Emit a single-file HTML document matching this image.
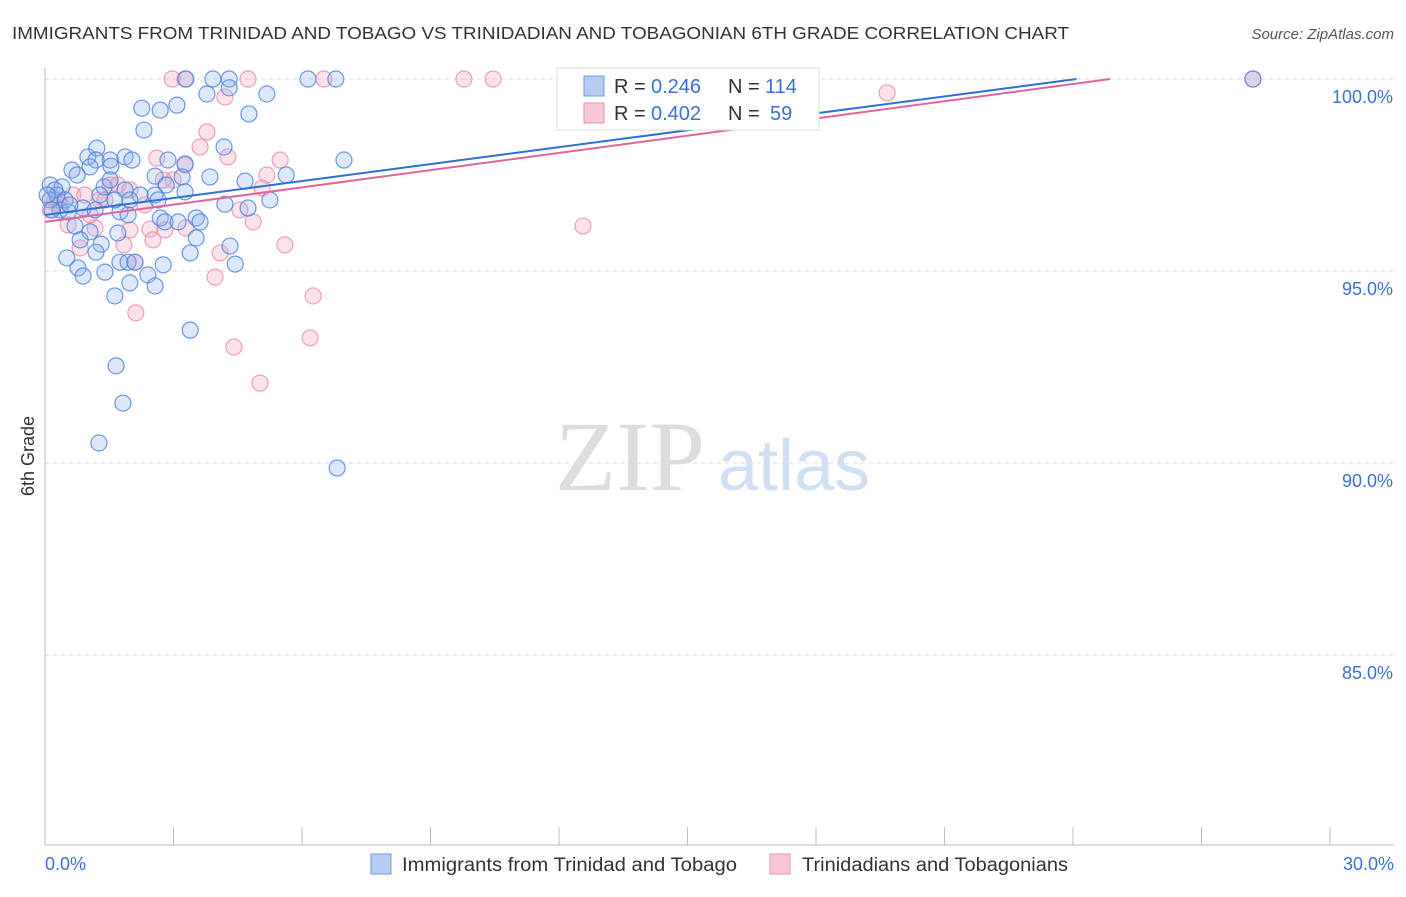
<!DOCTYPE html>
<html><head><meta charset="utf-8"><style>
body{margin:0;background:#fff;font-family:"Liberation Sans",sans-serif;}
</style></head><body>
<svg id="chart" width="1406" height="892" xmlns="http://www.w3.org/2000/svg" font-family="Liberation Sans, sans-serif">
<text x="12" y="39" font-size="17.5" fill="#333" textLength="1057" lengthAdjust="spacingAndGlyphs">IMMIGRANTS FROM TRINIDAD AND TOBAGO VS TRINIDADIAN AND TOBAGONIAN 6TH GRADE CORRELATION CHART</text>
<text x="1394" y="39" font-size="15" fill="#555" text-anchor="end" font-style="italic">Source: ZipAtlas.com</text>
<text transform="translate(34,456) rotate(-90)" font-size="18" fill="#333" text-anchor="middle">6th Grade</text>
<g>
<text x="555" y="490" font-size="100" font-family="Liberation Serif, serif" fill="#dcdcdc">ZIP</text>
<text x="718" y="490" font-size="72" fill="#d0dff2">atlas</text>
</g>
<g id="grid"></g><g id="axes"></g><g id="marks"></g>
<g>
<rect x="557" y="68" width="262" height="62" fill="#fff" stroke="#ddd"/>
<rect x="584" y="76" width="20" height="20" fill="#b5cdf3" stroke="#6d9be0"/>
<rect x="584" y="103" width="20" height="20" fill="#f8c6d6" stroke="#e891ad"/>
<text x="614" y="93" font-size="20" fill="#333">R =</text>
<text x="651" y="93" font-size="20" fill="#3b6fd4">0.246</text>
<text x="728" y="93" font-size="20" fill="#333">N =</text>
<text x="765" y="93" font-size="20" fill="#3b6fd4">114</text>
<text x="614" y="120" font-size="20" fill="#333">R =</text>
<text x="651" y="120" font-size="20" fill="#3b6fd4">0.402</text>
<text x="728" y="120" font-size="20" fill="#333">N =</text>
<text x="770" y="120" font-size="20" fill="#3b6fd4">59</text>
</g>
<g>
<rect x="371" y="854" width="20" height="20" fill="#b5cdf3" stroke="#6d9be0"/>
<text x="402" y="871" font-size="19" fill="#333" textLength="335" lengthAdjust="spacingAndGlyphs">Immigrants from Trinidad and Tobago</text>
<rect x="770" y="854" width="20" height="20" fill="#f8c6d6" stroke="#e891ad"/>
<text x="802" y="871" font-size="19" fill="#333" textLength="266" lengthAdjust="spacingAndGlyphs">Trinidadians and Tobagonians</text>
</g>
</svg>
<script>
const blueX=[3.29,3.92,4.30,6.14,6.79,4.30,3.78,5.18,2.26,2.69,3.08,4.76,2.31,4.18,1.21,1.00,1.52,1.87,1.19,2.03,2.87,3.27,1.54,0.63,1.05,0.75,2.57,3.85,3.20,4.67,5.63,6.98,2.83,0.12,0.40,1.38,1.87,0.28,2.57,3.27,5.25,4.20,4.74,0.89,1.17,0.35,0.54,1.75,1.94,2.69,3.53,2.80,3.11,3.62,0.70,1.05,1.70,3.53,1.31,0.82,4.32,1.19,3.39,0.51,1.75,1.94,2.10,2.76,4.44,0.77,1.40,0.89,2.40,1.98,2.57,1.63,3.39,1.66,1.82,1.26,6.82,28.2,0.12,0.23,0.05,0.16,0.47,0.58,1.28,1.63,2.22,1.52,1.98,2.64];
const blueY=[100,100,100,100,100,99.77,99.61,99.61,99.24,99.19,99.32,99.09,98.67,98.23,98.20,97.97,97.89,97.97,97.89,97.89,97.89,97.79,97.73,97.63,97.71,97.50,97.47,97.45,97.45,97.34,97.50,97.89,97.24,97.24,97.19,97.19,97.11,96.98,96.98,97.06,96.85,96.74,96.64,96.64,96.59,96.59,96.54,96.54,96.46,96.38,96.38,96.28,96.28,96.28,96.17,96.02,95.99,95.86,95.70,95.81,95.65,95.49,95.47,95.34,95.23,95.23,95.23,95.16,95.18,95.08,94.97,94.87,94.90,94.69,94.61,94.35,93.46,92.53,91.56,90.52,89.87,100,96.85,97.11,96.98,96.59,96.85,96.72,96.98,96.85,96.98,97.37,96.85,96.85];
const pinkX=[2.97,3.27,4.74,6.51,9.78,10.46,28.2,19.66,4.20,3.78,3.62,4.27,2.61,5.49,3.27,5.18,2.99,2.76,1.52,1.70,5.07,1.98,0.65,0.93,1.28,0.23,0.35,2.33,4.55,4.86,0.54,2.45,1.98,2.80,1.17,3.29,2.52,1.84,0.82,5.60,4.09,2.10,3.97,6.26,2.12,4.41,6.19,5.02,12.56,0.12,0.30,1.05,1.40];
const pinkY=[100,100,100,100,100,100,100,99.64,99.53,98.62,98.23,97.97,97.94,97.89,97.76,97.50,97.37,97.37,97.24,97.24,97.16,97.11,96.98,96.98,96.85,96.85,96.72,96.72,96.59,96.28,96.20,96.09,96.07,96.07,96.12,96.12,95.81,95.68,95.60,95.68,95.47,95.23,94.84,94.35,93.91,93.02,93.26,92.08,96.17,96.59,96.85,96.46,96.85];
const trendIntercepts=[96.46,96.28];
const trendSlopes=[0.147,0.1496];
const yTicks=[100,95,90,85];
const yTickLabels=["100.0%","95.0%","90.0%","85.0%"];
const xTickLabels=["0.0%","30.0%"];

const NS="http://www.w3.org/2000/svg";
const xs=v=>45+v*(1285/30);
const ys=v=>79+(100-v)*38.4;
function mk(tag,attrs,parent){const e=document.createElementNS(NS,tag);for(const k in attrs)e.setAttribute(k,attrs[k]);document.getElementById(parent).appendChild(e);return e;}

yTicks.forEach((t,i)=>{
  const g=mk('line',{x1:45,x2:1394,y1:ys(t),y2:ys(t),stroke:'#ddd','stroke-dasharray':'4,4'},'grid');
  
  
  const l=mk('text',{x:1393,y:ys(t)+24,'font-size':18,fill:'#3b6fd4','text-anchor':'end'},'axes');
  l.textContent=yTickLabels[i];
  
  
});
let a=mk('line',{x1:45,x2:45,y1:68,y2:845,stroke:'#bbb'},'axes');


a=mk('line',{x1:45,x2:1394,y1:845,y2:845,stroke:'#bbb'},'axes');


for(let i=0;i<=10;i++){
  const t=mk('line',{x1:xs(i*3),x2:xs(i*3),y1:827,y2:845,stroke:'#bbb'},'axes');
  
  
}
[[0,'start',45],[30,'end',1394]].forEach((d,i)=>{
  const l=mk('text',{x:d[2],y:870,'font-size':18,fill:'#3b6fd4','text-anchor':d[1]},'axes');
  l.textContent=xTickLabels[i];
  
  
});

function pts(X,Y,fill,stroke,name){
  X.forEach((x,i)=>{
    const c=mk('circle',{cx:xs(x),cy:ys(Y[i]),r:8,fill:fill,'fill-opacity':0.3,stroke:stroke,'stroke-width':1.2,'stroke-opacity':0.8},'marks');
    
    
  });
}
pts(pinkX,pinkY,'#f4a3bd','#e88aaa','pink-point');
pts(blueX,blueY,'#8fb4ef','#4a80dc','blue-point');

const colors=['#2e6fd8','#e0659a'];
trendIntercepts.forEach((b,i)=>{
  const xEnd=(100-b)/trendSlopes[i];
  const l=mk('line',{x1:xs(0),y1:ys(b),x2:xs(xEnd),y2:ys(100),stroke:colors[i],'stroke-width':2},'marks');
  
  
});
</script>
</body></html>
